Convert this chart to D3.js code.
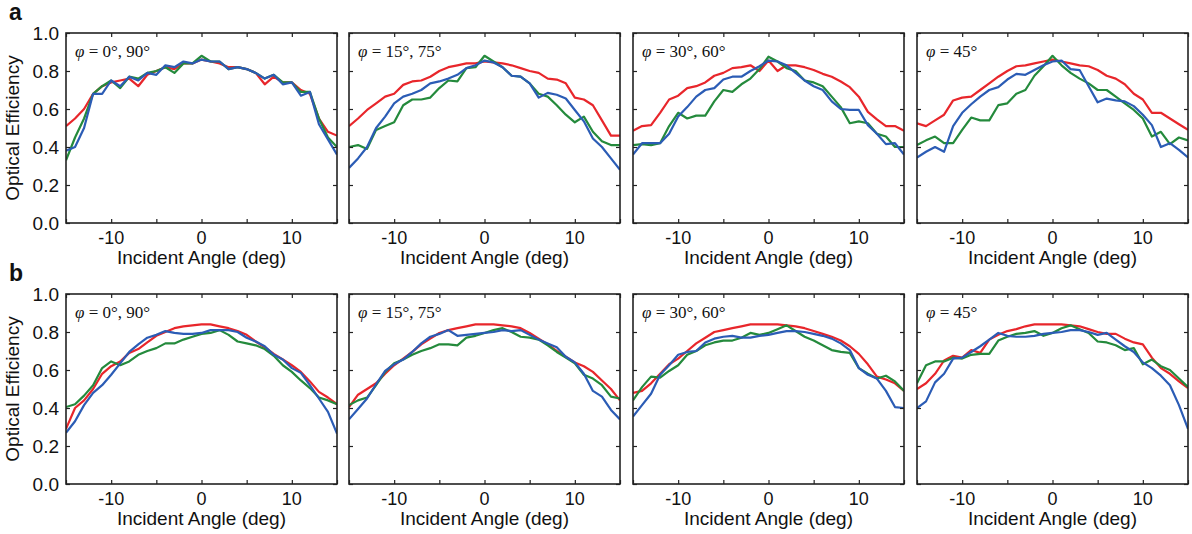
<!DOCTYPE html>
<html><head><meta charset="utf-8">
<script src="https://cdn.jsdelivr.net/npm/d3@7"></script>
<style>body{margin:0;background:#fff}svg{display:block}</style>
</head><body>
<script>
const angles = d3.range(-15, 16);
const panelTitles = ["0°, 90°", "15°, 75°", "30°, 60°", "45°"];
const rowLabels = ["a", "b"];
const xTicks = [-15, -10, -5, 0, 5, 10, 15];
const xTickLabels = [-10, 0, 10];
const yTicks = [0, 0.2, 0.4, 0.6, 0.8, 1.0];
const seriesColors = ["#e8262b", "#248a3c", "#2b5cb5"];

// Row a
const a1Red   = [0.51,0.55,0.60,0.68,0.72,0.74,0.75,0.76,0.72,0.78,0.80,0.82,0.81,0.84,0.84,0.86,0.85,0.84,0.82,0.82,0.81,0.79,0.73,0.77,0.74,0.74,0.70,0.68,0.55,0.48,0.46];
const a1Green = [0.33,0.45,0.55,0.68,0.72,0.75,0.71,0.77,0.76,0.79,0.80,0.82,0.79,0.84,0.84,0.88,0.85,0.85,0.81,0.82,0.81,0.79,0.76,0.78,0.74,0.74,0.69,0.69,0.55,0.45,0.40];
const a1Blue  = [0.38,0.40,0.50,0.68,0.68,0.75,0.72,0.77,0.75,0.79,0.78,0.83,0.82,0.85,0.84,0.86,0.85,0.85,0.81,0.82,0.81,0.79,0.76,0.78,0.73,0.74,0.67,0.69,0.52,0.44,0.36];

const a2Red   = [0.51,0.55,0.595,0.63,0.665,0.68,0.727,0.745,0.75,0.77,0.80,0.82,0.83,0.84,0.84,0.85,0.845,0.84,0.83,0.815,0.80,0.79,0.76,0.755,0.735,0.66,0.65,0.62,0.54,0.46,0.46];
const a2Green = [0.40,0.41,0.39,0.49,0.51,0.53,0.62,0.65,0.65,0.66,0.71,0.75,0.745,0.815,0.82,0.88,0.85,0.82,0.775,0.77,0.735,0.68,0.665,0.62,0.57,0.53,0.56,0.48,0.43,0.41,0.41];
const a2Blue  = [0.29,0.34,0.40,0.50,0.56,0.63,0.665,0.68,0.70,0.735,0.745,0.76,0.78,0.815,0.83,0.855,0.845,0.82,0.775,0.77,0.735,0.66,0.685,0.675,0.655,0.595,0.535,0.445,0.40,0.34,0.28];

const a3Red   = [0.486,0.51,0.515,0.58,0.65,0.67,0.71,0.72,0.74,0.775,0.79,0.815,0.82,0.83,0.80,0.855,0.80,0.83,0.83,0.82,0.805,0.785,0.77,0.745,0.715,0.665,0.585,0.545,0.51,0.51,0.486];
const a3Green = [0.41,0.415,0.41,0.42,0.51,0.58,0.55,0.565,0.565,0.64,0.70,0.69,0.73,0.76,0.81,0.875,0.85,0.815,0.80,0.75,0.74,0.72,0.665,0.61,0.525,0.535,0.525,0.47,0.455,0.40,0.40];
const a3Blue  = [0.36,0.42,0.42,0.42,0.47,0.56,0.61,0.665,0.70,0.71,0.755,0.77,0.77,0.80,0.825,0.855,0.85,0.83,0.79,0.75,0.72,0.70,0.64,0.60,0.595,0.595,0.515,0.47,0.415,0.42,0.36];

const a4Red   = [0.525,0.51,0.54,0.57,0.645,0.66,0.665,0.70,0.735,0.77,0.80,0.825,0.83,0.84,0.85,0.86,0.85,0.84,0.83,0.825,0.805,0.775,0.76,0.73,0.68,0.65,0.58,0.58,0.55,0.52,0.49];
const a4Green = [0.41,0.435,0.455,0.42,0.42,0.49,0.555,0.54,0.54,0.62,0.63,0.68,0.70,0.775,0.825,0.88,0.83,0.79,0.76,0.735,0.70,0.70,0.665,0.63,0.595,0.55,0.455,0.48,0.415,0.45,0.435];
const a4Blue  = [0.345,0.375,0.40,0.375,0.51,0.58,0.625,0.665,0.70,0.715,0.755,0.785,0.78,0.805,0.83,0.85,0.855,0.81,0.805,0.72,0.635,0.655,0.645,0.64,0.615,0.57,0.515,0.40,0.42,0.385,0.345];

// Row b
const b1Red   = [0.29,0.40,0.44,0.50,0.58,0.62,0.645,0.69,0.71,0.745,0.78,0.80,0.82,0.83,0.835,0.84,0.84,0.83,0.82,0.805,0.785,0.75,0.72,0.685,0.655,0.625,0.59,0.54,0.485,0.455,0.42];
const b1Green = [0.405,0.42,0.465,0.52,0.61,0.645,0.625,0.645,0.68,0.70,0.715,0.74,0.74,0.76,0.775,0.79,0.795,0.81,0.785,0.75,0.74,0.73,0.71,0.675,0.625,0.59,0.545,0.505,0.455,0.44,0.42];
const b1Blue  = [0.27,0.33,0.415,0.48,0.52,0.575,0.635,0.695,0.735,0.77,0.785,0.805,0.795,0.79,0.79,0.795,0.81,0.81,0.81,0.80,0.77,0.75,0.725,0.68,0.655,0.61,0.585,0.52,0.45,0.38,0.265];

const b2Red   = [0.405,0.47,0.50,0.53,0.58,0.625,0.66,0.695,0.735,0.765,0.795,0.81,0.82,0.83,0.84,0.84,0.84,0.835,0.83,0.82,0.795,0.765,0.735,0.70,0.67,0.64,0.62,0.59,0.545,0.50,0.44];
const b2Green = [0.415,0.44,0.455,0.52,0.59,0.635,0.655,0.68,0.70,0.715,0.735,0.735,0.73,0.77,0.78,0.795,0.81,0.82,0.80,0.775,0.77,0.76,0.73,0.695,0.665,0.635,0.575,0.555,0.52,0.46,0.45];
const b2Blue  = [0.34,0.395,0.45,0.525,0.595,0.63,0.655,0.695,0.74,0.775,0.79,0.81,0.78,0.785,0.79,0.795,0.80,0.81,0.805,0.81,0.785,0.76,0.74,0.72,0.67,0.64,0.58,0.49,0.46,0.39,0.34];

const b3Red   = [0.48,0.49,0.53,0.58,0.63,0.66,0.70,0.74,0.77,0.80,0.81,0.82,0.83,0.84,0.84,0.84,0.84,0.835,0.83,0.82,0.805,0.79,0.775,0.755,0.725,0.685,0.63,0.565,0.55,0.53,0.49];
const b3Green = [0.44,0.51,0.565,0.56,0.595,0.625,0.68,0.70,0.73,0.745,0.755,0.755,0.77,0.795,0.785,0.795,0.815,0.835,0.805,0.775,0.755,0.73,0.705,0.695,0.69,0.61,0.58,0.555,0.57,0.54,0.49];
const b3Blue  = [0.355,0.415,0.475,0.575,0.625,0.68,0.695,0.70,0.745,0.765,0.775,0.78,0.77,0.77,0.78,0.785,0.795,0.805,0.805,0.80,0.79,0.78,0.765,0.74,0.705,0.61,0.575,0.555,0.49,0.405,0.40];

const b4Red   = [0.50,0.53,0.58,0.65,0.675,0.665,0.705,0.69,0.76,0.785,0.805,0.815,0.83,0.84,0.84,0.84,0.84,0.835,0.83,0.815,0.80,0.79,0.79,0.765,0.745,0.735,0.665,0.61,0.58,0.54,0.505];
const b4Green = [0.53,0.625,0.645,0.645,0.665,0.66,0.68,0.685,0.685,0.755,0.775,0.79,0.795,0.805,0.78,0.795,0.82,0.835,0.815,0.795,0.75,0.745,0.73,0.705,0.715,0.63,0.655,0.62,0.60,0.555,0.51];
const b4Blue  = [0.40,0.435,0.535,0.58,0.66,0.665,0.695,0.725,0.76,0.795,0.78,0.775,0.775,0.78,0.79,0.795,0.80,0.81,0.81,0.80,0.785,0.795,0.76,0.725,0.695,0.64,0.61,0.57,0.52,0.415,0.29];

const rows = [
  [[a1Red,a1Green,a1Blue],[a2Red,a2Green,a2Blue],[a3Red,a3Green,a3Blue],[a4Red,a4Green,a4Blue]],
  [[b1Red,b1Green,b1Blue],[b2Red,b2Green,b2Blue],[b3Red,b3Green,b3Blue],[b4Red,b4Green,b4Blue]]
];

const W = 1192, H = 534;
const panelLeft = [66, 349, 633, 917];
const panelW = 271;
const rowTop = [33, 294];
const panelH = 190;
const sans = "Liberation Sans, Arial, sans-serif";
const serif = "Liberation Serif, 'Times New Roman', serif";
const tickFs = 18;
const titleFs = 19;

const svg = d3.select("body").append("svg").attr("width", W).attr("height", H);

rows.forEach((row, ri) => {
  svg.append("text").attr("x", 9).attr("y", rowTop[ri] - 13)
    .attr("font-family", sans).attr("font-weight", "bold").attr("font-size", 23)
    .attr("fill", "#111").text(rowLabels[ri]);

  row.forEach((series, ci) => {
    const x = d3.scaleLinear().domain([-15, 15]).range([0, panelW]);
    const y = d3.scaleLinear().domain([0, 1]).range([panelH, 0]);
    const g = svg.append("g").attr("transform", `translate(${panelLeft[ci]},${rowTop[ri]})`);

    const clipId = `clip${ri}${ci}`;
    g.append("clipPath").attr("id", clipId).append("rect").attr("width", panelW).attr("height", panelH);

    const line = d3.line().x((d, i) => x(angles[i])).y(d => y(d));
    const lg = g.append("g").attr("clip-path", `url(#${clipId})`);
    series.forEach((vals, si) => {
      lg.append("path").datum(vals).attr("d", line)
        .attr("fill", "none").attr("stroke", seriesColors[si])
        .attr("stroke-width", 2.2).attr("stroke-linejoin", "round");
    });

    const bottom = g.append("g").attr("transform", `translate(0,${panelH})`)
      .call(d3.axisBottom(x).tickValues(xTicks).tickSizeInner(-4).tickSizeOuter(0).tickFormat(""));
    const top = g.append("g").call(d3.axisTop(x).tickValues(xTicks).tickSizeInner(-4).tickSizeOuter(0).tickFormat(""));
    const left = g.append("g").call(d3.axisLeft(y).tickValues(yTicks).tickSizeInner(-4).tickSizeOuter(0).tickFormat(""));
    const right = g.append("g").attr("transform", `translate(${panelW},0)`)
      .call(d3.axisRight(y).tickValues(yTicks).tickSizeInner(-4).tickSizeOuter(0).tickFormat(""));
    [bottom, top, left, right].forEach(a => {
      a.select(".domain").remove();
      a.selectAll(".tick line").attr("stroke", "#222").attr("stroke-width", 1.2);
    });

    g.append("rect").attr("width", panelW).attr("height", panelH)
      .attr("fill", "none").attr("stroke", "#222").attr("stroke-width", 1.6);

    g.selectAll(".xl").data(xTickLabels).enter().append("text")
      .attr("x", d => x(d)).attr("y", panelH + 21)
      .attr("text-anchor", "middle").attr("font-family", sans).attr("font-size", tickFs)
      .attr("fill", "#111").text(d => d);
    g.append("text").attr("x", panelW / 2).attr("y", panelH + 41)
      .attr("text-anchor", "middle").attr("font-family", sans).attr("font-size", titleFs)
      .attr("fill", "#111").text("Incident Angle (deg)");

    if (ci === 0) {
      g.selectAll(".yl").data(yTicks).enter().append("text")
        .attr("x", -7).attr("y", d => y(d) + 7)
        .attr("text-anchor", "end").attr("font-family", sans).attr("font-size", 19)
        .attr("fill", "#111").text(d => d.toFixed(1));
      g.append("text").attr("transform", `translate(-47,${panelH / 2}) rotate(-90)`)
        .attr("text-anchor", "middle").attr("font-family", sans).attr("font-size", titleFs)
        .attr("fill", "#111").text("Optical Efficiency");
    }

    const t = g.append("text").attr("x", 9).attr("y", 24)
      .attr("font-family", serif).attr("font-size", 17).attr("fill", "#111");
    t.append("tspan").attr("font-style", "italic").text("φ");
    t.append("tspan").text(" = " + panelTitles[ci]);
  });
});
</script>
</body></html>
